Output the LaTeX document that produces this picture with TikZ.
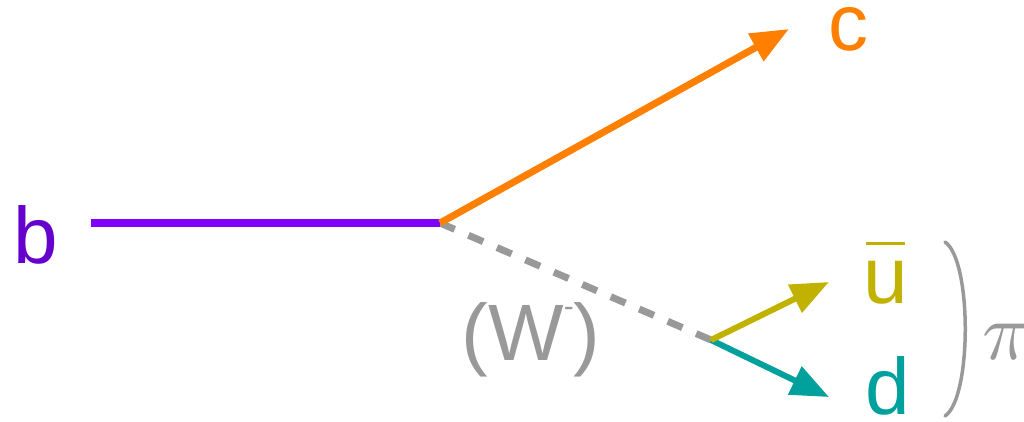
\documentclass[tikz,border=0pt]{standalone}
\usepackage{fontspec}
\setmainfont{Liberation Sans}
\usetikzlibrary{arrows.meta}
\definecolor{bline}{HTML}{8000FF}
\definecolor{btext}{HTML}{6600CC}
\definecolor{corange}{HTML}{FF8000}
\definecolor{uyellow}{HTML}{C2B200}
\definecolor{dteal}{HTML}{00A09C}
\definecolor{wgray}{HTML}{999999}
\begin{document}
\begin{tikzpicture}[x=1pt,y=-1pt,
  lbl/.style={inner sep=0pt,anchor=base,font=\fontsize{80}{96}\selectfont},
  tipa/.style={-{Triangle[length=38pt,width=30pt]}}]
\useasboundingbox (0,0) rectangle (1024,421);
% vertices and free ends
\coordinate (bstart) at (91,223);
\coordinate (v1) at (440,223);
\coordinate (v2) at (711,340);
\coordinate (ctip) at (789,29);
\coordinate (utip) at (829,282);
\coordinate (dtip) at (829,397);
% W propagator
\draw[wgray,line width=7pt,dash pattern=on 16pt off 15pt] (v1) -- (v2);
% b quark
\draw[bline,line width=8pt] (bstart) -- (v1);
% c quark
\draw[corange,line width=7pt,tipa] (v1) -- (ctip);
% d quark and anti-u
\draw[dteal,line width=6pt,tipa] (v2) -- (dtip);
\draw[uyellow,line width=6pt,tipa] (v2) -- (utip);
% labels
\node[lbl,text=btext] (b) at (36,263) {b};
\node[lbl,text=corange] (c) at (848,50) {c};
\node[lbl,text=uyellow] (ubar) at (886,303) {\rlap{\hspace{2pt}\raisebox{58pt}{\rule{39pt}{3.5pt}}}u};
\node[lbl,text=dteal] (d) at (888,414) {d};
\node[lbl,text=wgray] (w) at (531,360) {(W\raisebox{44pt}{\fontsize{30}{36}\selectfont -})};
% pion bracket
\coordinate (brtop) at (945,242);
\coordinate (brbot) at (945,416);
\draw[wgray,line width=3.5pt,line cap=round] (brtop) .. controls (972,260) and (972,398) .. (brbot);
\node[inner sep=0pt,anchor=base west,text=wgray] (pi) at (982,359) {\scalebox{8.2}{$\pi$}};
\end{tikzpicture}
\end{document}
